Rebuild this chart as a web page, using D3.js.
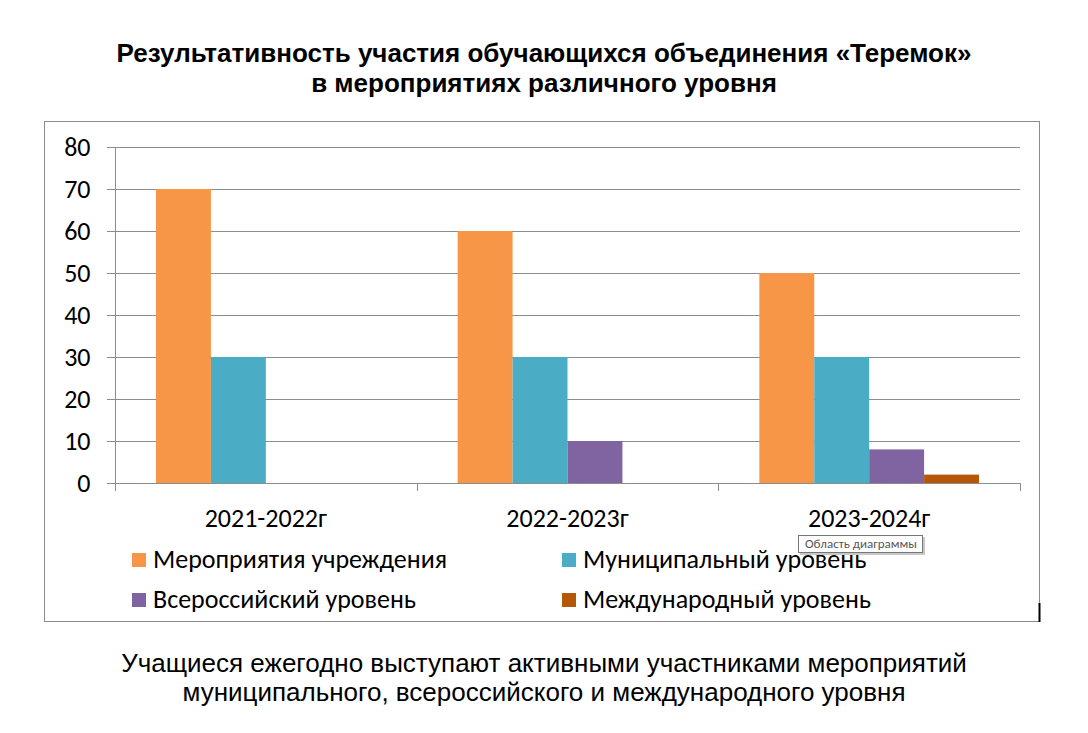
<!DOCTYPE html>
<html><head><meta charset="utf-8">
<script src="https://cdn.jsdelivr.net/npm/d3@7"></script>
<style>
html,body{margin:0;padding:0;background:#fff;}
svg{display:block;}
</style></head>
<body>
<svg id="chart" width="1088" height="733"></svg>
<script>
const titleLines = ["Результативность участия обучающихся объединения «Теремок»", "в мероприятиях различного уровня"];
const footerLines = ["Учащиеся ежегодно выступают активными участниками мероприятий", "муниципального, всероссийского и международного уровня"];
const categories = ["2021-2022г", "2022-2023г", "2023-2024г"];
const seriesNames = ["Мероприятия учреждения", "Муниципальный уровень", "Всероссийский уровень", "Международный уровень"];
const seriesColors = ["#F79646", "#4BACC6", "#8064A2", "#B65708"];
const institution = [70, 60, 50];
const municipal = [30, 30, 30];
const allRussian = [0, 10, 8];
const international = [0, 0, 2];
const yTicks = [0, 10, 20, 30, 40, 50, 60, 70, 80];
const seriesValues = [institution, municipal, allRussian, international];

const svg = d3.select("#chart");
const axisFont = "Carlito, 'Open Sans', 'Liberation Sans', sans-serif";
const arial = "'Liberation Sans', Arial, sans-serif";

// Title
svg.append("text").attr("text-anchor", "middle")
  .attr("font-family", arial).attr("font-weight", "bold")
  .attr("font-size", 26).attr("fill", "#000")
  .selectAll("tspan").data(titleLines).join("tspan")
  .attr("x", 544).attr("y", (d, i) => 62 + i * 30).text(d => d);

// Chart frame
svg.append("rect").attr("x", 44.5).attr("y", 121.5).attr("width", 995).attr("height", 500)
  .attr("fill", "#fff").attr("stroke", "#8c8c8c").attr("stroke-width", 1);
svg.append("line").attr("x1", 1039.5).attr("x2", 1039.5).attr("y1", 603).attr("y2", 622)
  .attr("stroke", "#000").attr("stroke-width", 2);

const x0 = d3.scaleBand().domain(categories).range([115, 1020]).paddingInner(0).paddingOuter(0);
const innerPad = 41;
const x1 = d3.scaleBand().domain(d3.range(seriesNames.length))
  .range([innerPad, x0.bandwidth() - innerPad]).padding(0);
const y = d3.scaleLinear().domain([0, 80]).range([483, 147]);

// Gridlines
svg.append("g").selectAll("line").data(yTicks).join("line")
  .attr("x1", 107).attr("x2", 1020)
  .attr("y1", d => Math.round(y(d)) + 0.5).attr("y2", d => Math.round(y(d)) + 0.5)
  .attr("stroke", "#8c8c8c").attr("stroke-width", 1);

// Y axis
const yAxis = d3.axisLeft(y).tickValues(yTicks).tickSize(0).tickPadding(25);
const yg = svg.append("g").attr("transform", "translate(115.5,0)").call(yAxis);
yg.select(".domain").remove();
yg.selectAll("text").attr("font-family", axisFont).attr("font-size", 26).attr("fill", "#000")
  .attr("dy", "0.33em");
svg.append("line").attr("x1", 115.5).attr("x2", 115.5).attr("y1", 147).attr("y2", 491)
  .attr("stroke", "#8c8c8c");

// X axis tick marks at category boundaries
const boundaries = [115, ...categories.map(c => x0(c) + x0.bandwidth())];
svg.append("g").selectAll("line").data(boundaries).join("line")
  .attr("x1", d => Math.round(d) + 0.5).attr("x2", d => Math.round(d) + 0.5)
  .attr("y1", 483).attr("y2", 491).attr("stroke", "#8c8c8c");

// X labels
const xAxis = d3.axisBottom(x0).tickSize(0).tickPadding(44);
const xg = svg.append("g").attr("transform", "translate(0,483)").call(xAxis);
xg.select(".domain").remove();
xg.selectAll("text").attr("font-family", axisFont).attr("font-size", 26).attr("fill", "#000")
  .attr("dy", 0);

// Bars
const groups = svg.append("g").selectAll("g").data(categories).join("g")
  .attr("transform", d => `translate(${x0(d)},0)`);
groups.selectAll("rect").data((c, ci) => seriesValues.map((s, si) => ({ si, v: s[ci] })).filter(d => d.v > 0))
  .join("rect")
  .attr("x", d => x1(d.si)).attr("width", x1.bandwidth())
  .attr("y", d => y(d.v)).attr("height", d => y(0) - y(d.v))
  .attr("fill", d => seriesColors[d.si]);

// Zero line on top
svg.append("line").attr("x1", 107).attr("x2", 1020).attr("y1", 483.5).attr("y2", 483.5)
  .attr("stroke", "#8c8c8c");

// Legend
const legendPos = [[132, 560], [562, 560], [132, 600], [562, 600]];
const lg = svg.append("g").selectAll("g").data(seriesNames).join("g")
  .attr("transform", (d, i) => `translate(${legendPos[i][0]},${legendPos[i][1]})`);
lg.append("rect").attr("x", 0).attr("y", -7).attr("width", 14).attr("height", 14)
  .attr("fill", (d, i) => seriesColors[i]);
lg.append("text").attr("x", 21).attr("y", 8)
  .attr("font-family", axisFont).attr("font-size", 26).attr("fill", "#000").text(d => d);

// Tooltip (as shown in the reference screenshot)
const tip = svg.append("g").attr("transform", "translate(798,535)");
tip.append("rect").attr("x", 2).attr("y", 2).attr("width", 125).attr("height", 18).attr("fill", "#c8c8c8");
tip.append("rect").attr("x", 0.5).attr("y", 0.5).attr("width", 124).attr("height", 17)
  .attr("fill", "#fff").attr("stroke", "#767676");
tip.append("text").attr("x", 7).attr("y", 13).attr("font-family", axisFont)
  .attr("font-size", 13).attr("fill", "#575757").text("Область диаграммы");

// Footer
svg.append("text").attr("text-anchor", "middle")
  .attr("font-family", arial)
  .attr("font-size", 26).attr("fill", "#000")
  .selectAll("tspan").data(footerLines).join("tspan")
  .attr("x", 544).attr("y", (d, i) => 672 + i * 29).text(d => d);
</script>
</body></html>
